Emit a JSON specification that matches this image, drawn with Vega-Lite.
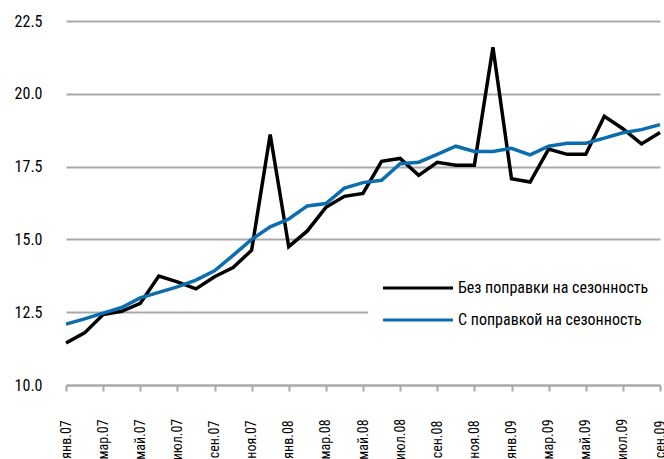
{
  "$schema": "https://vega.github.io/schema/vega-lite/v6.json",
  "width": 594,
  "height": 364,
  "autosize": {"type": "none"},
  "padding": {"left": 66, "top": 21, "right": 4, "bottom": 74},
  "background": "white",
  "config": {
    "view": {"stroke": null},
    "font": "Roboto Condensed, DejaVu Sans Condensed, Roboto"
  },
  "datasets": {
    "series": [
      {"m":"янв.07","s":"Без поправки на сезонность","v":11.44},
      {"m":"фев.07","s":"Без поправки на сезонность","v":11.79},
      {"m":"мар.07","s":"Без поправки на сезонность","v":12.42},
      {"m":"апр.07","s":"Без поправки на сезонность","v":12.53},
      {"m":"май.07","s":"Без поправки на сезонность","v":12.8},
      {"m":"июн.07","s":"Без поправки на сезонность","v":13.74},
      {"m":"июл.07","s":"Без поправки на сезонность","v":13.54},
      {"m":"авг.07","s":"Без поправки на сезонность","v":13.3},
      {"m":"сен.07","s":"Без поправки на сезонность","v":13.72},
      {"m":"окт.07","s":"Без поправки на сезонность","v":14.03},
      {"m":"ноя.07","s":"Без поправки на сезонность","v":14.63},
      {"m":"дек.07","s":"Без поправки на сезонность","v":18.6},
      {"m":"янв.08","s":"Без поправки на сезонность","v":14.75},
      {"m":"фев.08","s":"Без поправки на сезонность","v":15.29},
      {"m":"мар.08","s":"Без поправки на сезонность","v":16.1},
      {"m":"апр.08","s":"Без поправки на сезонность","v":16.48},
      {"m":"май.08","s":"Без поправки на сезонность","v":16.58},
      {"m":"июн.08","s":"Без поправки на сезонность","v":17.68},
      {"m":"июл.08","s":"Без поправки на сезонность","v":17.78},
      {"m":"авг.08","s":"Без поправки на сезонность","v":17.2},
      {"m":"сен.08","s":"Без поправки на сезонность","v":17.65},
      {"m":"окт.08","s":"Без поправки на сезонность","v":17.55},
      {"m":"ноя.08","s":"Без поправки на сезонность","v":17.55},
      {"m":"дек.08","s":"Без поправки на сезонность","v":21.6},
      {"m":"янв.09","s":"Без поправки на сезонность","v":17.08},
      {"m":"фев.09","s":"Без поправки на сезонность","v":16.97},
      {"m":"мар.09","s":"Без поправки на сезонность","v":18.1},
      {"m":"апр.09","s":"Без поправки на сезонность","v":17.92},
      {"m":"май.09","s":"Без поправки на сезонность","v":17.92},
      {"m":"июн.09","s":"Без поправки на сезонность","v":19.23},
      {"m":"июл.09","s":"Без поправки на сезонность","v":18.8},
      {"m":"авг.09","s":"Без поправки на сезонность","v":18.28},
      {"m":"сен.09","s":"Без поправки на сезонность","v":18.67},
      {"m":"янв.07","s":"С поправкой на сезонность","v":12.09},
      {"m":"фев.07","s":"С поправкой на сезонность","v":12.27},
      {"m":"мар.07","s":"С поправкой на сезонность","v":12.47},
      {"m":"апр.07","s":"С поправкой на сезонность","v":12.66},
      {"m":"май.07","s":"С поправкой на сезонность","v":12.99},
      {"m":"июн.07","s":"С поправкой на сезонность","v":13.18},
      {"m":"июл.07","s":"С поправкой на сезонность","v":13.37},
      {"m":"авг.07","s":"С поправкой на сезонность","v":13.6},
      {"m":"сен.07","s":"С поправкой на сезонность","v":13.92},
      {"m":"окт.07","s":"С поправкой на сезонность","v":14.45},
      {"m":"ноя.07","s":"С поправкой на сезонность","v":15.0},
      {"m":"дек.07","s":"С поправкой на сезонность","v":15.43},
      {"m":"янв.08","s":"С поправкой на сезонность","v":15.7},
      {"m":"фев.08","s":"С поправкой на сезонность","v":16.15},
      {"m":"мар.08","s":"С поправкой на сезонность","v":16.23},
      {"m":"апр.08","s":"С поправкой на сезонность","v":16.76},
      {"m":"май.08","s":"С поправкой на сезонность","v":16.95},
      {"m":"июн.08","s":"С поправкой на сезонность","v":17.03},
      {"m":"июл.08","s":"С поправкой на сезонность","v":17.6},
      {"m":"авг.08","s":"С поправкой на сезонность","v":17.65},
      {"m":"сен.08","s":"С поправкой на сезонность","v":17.92},
      {"m":"окт.08","s":"С поправкой на сезонность","v":18.2},
      {"m":"ноя.08","s":"С поправкой на сезонность","v":18.02},
      {"m":"дек.08","s":"С поправкой на сезонность","v":18.02},
      {"m":"янв.09","s":"С поправкой на сезонность","v":18.13},
      {"m":"фев.09","s":"С поправкой на сезонность","v":17.9},
      {"m":"мар.09","s":"С поправкой на сезонность","v":18.2},
      {"m":"апр.09","s":"С поправкой на сезонность","v":18.3},
      {"m":"май.09","s":"С поправкой на сезонность","v":18.3},
      {"m":"июн.09","s":"С поправкой на сезонность","v":18.48},
      {"m":"июл.09","s":"С поправкой на сезонность","v":18.66},
      {"m":"авг.09","s":"С поправкой на сезонность","v":18.77},
      {"m":"сен.09","s":"С поправкой на сезонность","v":18.94}
    ]
  },
  "data": {"name": "series"},
  "mark": {"type": "line", "strokeWidth": 3.5, "strokeJoin": "miter", "strokeMiterLimit": 4},
  "encoding": {
    "x": {
      "field": "m",
      "type": "ordinal",
      "sort": null,
      "scale": {"type": "point", "padding": 0},
      "axis": {
        "title": null,
        "values": ["янв.07","мар.07","май.07","июл.07","сен.07","ноя.07","янв.08","мар.08","май.08","июл.08","сен.08","ноя.08","янв.09","мар.09","май.09","июл.09","сен.09"],
        "labelAngle": -90,
        "labelAlign": "center",
        "labelBaseline": "middle",
        "labelPadding": 48,
        "labelFontSize": 14,
        "labelColor": "#000000",
        "labelOffset": 0,
        "domainColor": "#a9a9a9",
        "domainWidth": 2,
        "tickColor": "#a9a9a9",
        "tickWidth": 2,
        "tickSize": 6,
        "grid": false,
        "labelOverlap": false,
        "labelBound": false
      }
    },
    "y": {
      "field": "v",
      "type": "quantitative",
      "scale": {"domain": [10, 22.5], "nice": false, "zero": false},
      "axis": {
        "title": null,
        "values": [10, 12.5, 15, 17.5, 20, 22.5],
        "format": ".1f",
        "domain": false,
        "ticks": false,
        "labelPadding": 24,
        "labelFontSize": 16,
        "labelColor": "#000000",
        "gridColor": "#a9a9a9",
        "gridWidth": 2
      }
    },
    "color": {
      "field": "s",
      "type": "nominal",
      "scale": {
        "domain": ["Без поправки на сезонность", "С поправкой на сезонность"],
        "range": ["#000000", "#0b6dad"]
      },
      "legend": {
        "title": null,
        "orient": "none",
        "legendX": 302,
        "legendY": 247,
        "symbolType": "M-1,0H13",
        "symbolSize": 100,
        "symbolStrokeWidth": 3,
        "symbolFillColor": "transparent",
        "labelFontSize": 16,
        "labelLimit": 0,
        "labelColor": "#000000",
        "labelOffset": 62,
        "rowPadding": 16,
        "padding": 12,
        "fillColor": "white"
      }
    }
  }
}
